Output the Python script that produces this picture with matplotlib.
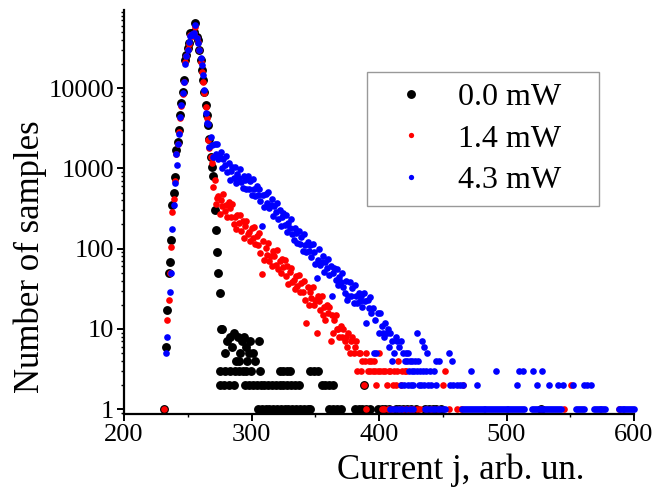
import numpy as np
import matplotlib
matplotlib.use("Agg")
import matplotlib.pyplot as plt
from matplotlib.lines import Line2D
from matplotlib.ticker import FixedLocator, LogLocator, NullFormatter, FuncFormatter, MultipleLocator

plt.rcParams['font.family'] = ['Liberation Serif', 'DejaVu Serif']

# ---- data (counts per current value j) ----
# 0.0 mW: peak, consecutive j starting at 233
black_start = 233
black_peak = [6, 17, 49, 68, 128, 350, 490, 785, 1690, 2140,
              3000, 4600, 6450, 9000, 12600, 22300, 26000, 32000, 36000, 48000,
              47000, 48000, 50000, 64000, 43000, 40000, 30000, 22300, 16800, 12600,
              9000, 6100, 4600, 3500, 2300, 1400, 1050, 800, 300, 173,
              91, 50, 28, 10]
black_mid_x = [277, 279.5, 281, 283, 285, 286.5, 288, 289.5, 290, 291,
               292.5, 294, 295.5, 296.5, 298, 299, 301.5, 303, 305.5]
black_mid_y = [10, 5, 7, 8, 6, 9, 4, 8, 4, 5, 7, 8, 6, 4, 5, 7, 5, 4, 7]
black_x3 = [275.5, 279, 283.5, 287, 290.5, 293, 296, 299.5, 307, 322.5,
            325, 328, 330.5, 346, 349, 352]
black_x2 = [275.5, 278.5, 282, 286, 295, 298, 301, 304, 307.5, 310, 313, 316,
            319, 322, 325, 328, 331, 334, 337, 355, 358, 361, 364, 388]
black_x1 = [231, 305, 308, 311, 314, 317, 320, 323, 326, 329, 332, 335, 338,
            341, 344, 346, 361, 364, 367, 370, 381, 384, 387, 390, 393, 399,
            402, 405, 408, 413, 416, 419, 422, 425, 429, 436, 439, 442, 445,
            449, 527]

# 1.4 mW: consecutive j starting at 234
red_start = 234
red_band = [13, 23, 49, 105, 288, 420, 700, 1500, 2000, 2800,
            4200, 6000, 8500, 12000, 21000, 25000, 31000, 35000, 46000, 44000,
            47000, 48000, 58000, 42000, 38000, 30000, 21000, 16000, 12000, 8800,
            5800, 4300, 2240, 1800, 1400, 1150,
            589, 708, 363, 427, 457, 269, 403, 339, 484, 295,
            347, 251, 380, 324, 245, 355, 204, 251, 176, 263,
            211, 263, 166, 221, 135, 193, 224, 150, 162, 124,
            182, 136, 186, 115, 145, 112, 155, 89, 48, 123,
            72, 102, 83, 117, 71, 82, 61, 93, 81, 63,
            95, 56, 71, 50, 74, 59, 72, 46, 60, 36,
            51, 58, 38, 41, 31, 46, 34, 47, 29, 37,
            29, 40, 23, 12, 33, 20, 29, 24, 33, 20,
            23, 9, 26, 22, 17, 26, 15, 19, 13, 20,
            16, 19, 7, 15, 9, 13, 15, 10, 10, 8,
            11, 8, 10, 7, 8, 6, 9, 5, 7, 8,
            5, 6, 7, 3, 5, 5, 3, 4, 2, 4,
            5, 3, 4, 3, 4, 3, 4, 3, 2, 3,
            5, 3, 1, 3]
red_x4 = [415]
red_x3 = [405, 408, 409, 412, 414, 418, 420, 421, 452]
red_x2 = [406, 411, 413, 417, 450.5, 466, 550.5]
red_x1 = [231, 389.5, 404, 407, 410, 416, 419, 422, 424, 427, 430, 432, 437,
          441, 446, 455, 461, 464, 527, 545, 588]

# 4.3 mW: consecutive j starting at 236
blue_start = 236
blue_band = [29, 49, 178, 350, 650, 1500, 2000, 2700, 4400, 6200,
             8600, 12000, 20000, 25000, 30000, 38000, 45000, 47000, 46000, 48000,
             62000, 42000, 36000, 30000, 24000, 19400, 14600, 9400, 4850, 3640,
             3550, 1860, 2450, 1950, 1380, 2000, 1510, 2040, 1290, 1380,
             1620, 1000, 1320, 1100, 1410, 890, 1150, 725, 933, 1050,
             759, 1050, 661, 851, 759, 989, 668, 562, 813, 708,
             550, 794, 550, 692, 462, 741, 556, 457, 603, 468,
             550, 389, 190, 462, 331, 484, 372, 501, 320, 351,
             417, 257, 339, 282, 367, 232, 302, 191, 245, 275,
             195, 263, 162, 207, 180, 232, 153, 129, 182, 155,
             117, 168, 115, 141, 94, 151, 112, 92, 120, 94,
             110, 78, 114, 91, 65, 43, 72, 99, 63, 69,
             82, 51, 68, 57, 74, 47, 61, 26, 50, 57,
             41, 56, 35, 44, 38, 50, 33, 28, 40, 23,
             26, 38, 26, 32, 21, 35, 26, 21, 28, 22,
             26, 19, 28, 22, 12, 23, 18, 25, 16, 18,
             5, 13, 5, 16, 9, 16, 11, 9, 8, 12]
blue_mid_x = [233, 233.5, 241.9, 406, 407, 408, 409, 410, 413, 414.5, 415.5, 417, 430, 434, 435]
blue_mid_y = [5, 8, 1100, 9, 10, 6, 9, 7, 8, 7, 6, 7, 9, 7, 6]
blue_x5 = [411.5, 419, 421, 423, 438, 455]
blue_x4 = [410.5, 420, 422, 424, 426, 428, 430.5, 444.5, 447, 457.5]
blue_x3 = [423.5, 425.5, 427.5, 429.5, 432, 434.5, 437, 440, 443, 472, 491.5,
           509.5, 513, 520.5, 528]
blue_x2 = [417.5, 419.5, 422.5, 425, 427, 431, 433, 435.5, 438.5, 441, 444.5,
           456, 458, 461, 463.5, 465.5, 477, 508.5, 524, 533.5, 540, 544, 552,
           561, 563.5, 566.5]
blue_x1 = [408.5, 411, 413, 416, 418, 421, 424, 427, 436, 438, 440, 442, 444,
           446, 448, 450, 452, 465, 467, 468.5, 470, 471.5, 473, 474.5, 476,
           477.5, 479, 480.5, 482, 483.5, 485, 486.5, 488, 489.5, 491, 492.5,
           494, 495.5, 497, 498.5, 500, 501.5, 503, 504.5, 506, 507.5, 509,
           510.5, 512, 514, 520, 521.5, 523, 524.5, 526, 527.5, 529, 530.5, 532,
           533.5, 535, 536.5, 538, 539.5, 541, 543, 554.5, 556, 557.5, 559,
           560.5, 568.5, 570, 571.5, 573, 574.5, 576, 577.5, 588, 589.5, 591,
           592.5, 594, 595.5, 597, 598.5, 600]

labels = ['0.0 mW', '1.4 mW', '4.3 mW']
colors = ['black', 'red', 'blue']


def collect(start, band, mid_x, mid_y, levels):
    x = list(np.arange(start, start + len(band))) + list(mid_x)
    y = list(band) + list(mid_y)
    for lev, xs in levels.items():
        x += list(xs)
        y += [lev] * len(xs)
    return np.array(x, float), np.array(y, float)


bx, by = collect(black_start, black_peak, black_mid_x, black_mid_y,
                 {3: black_x3, 2: black_x2, 1: black_x1})
rx, ry = collect(red_start, red_band, [], [],
                 {4: red_x4, 3: red_x3, 2: red_x2, 1: red_x1})
ux, uy = collect(blue_start, blue_band, blue_mid_x, blue_mid_y,
                 {5: blue_x5, 4: blue_x4, 3: blue_x3, 2: blue_x2, 1: blue_x1})

fig = plt.figure(figsize=(6.64, 4.91), dpi=100)
ax = fig.add_axes([124 / 664, 1 - 414 / 491, 510 / 664, 404 / 491])

ax.plot(bx, by, ls='none', marker='o', ms=6.4, mew=0, color=colors[0], clip_on=False)
ax.plot(rx, ry, ls='none', marker='o', ms=4.8, mew=0, color=colors[1], clip_on=False)
ax.plot(ux, uy, ls='none', marker='o', ms=4.8, mew=0, color=colors[2], clip_on=False)

ax.set_yscale('log')
ax.set_xlim(200, 600)
ax.set_ylim(0.87, 94000)

for s in ['top', 'right']:
    ax.spines[s].set_visible(False)
for s in ['left', 'bottom']:
    ax.spines[s].set_linewidth(1.6)

ax.xaxis.set_major_locator(MultipleLocator(100))
ax.xaxis.set_minor_locator(MultipleLocator(50))
ax.yaxis.set_major_locator(FixedLocator([1, 10, 100, 1000, 10000]))
ax.yaxis.set_major_formatter(FuncFormatter(lambda v, p: '%d' % v))
ax.yaxis.set_minor_locator(LogLocator(base=10, subs=np.arange(2, 10)))
ax.yaxis.set_minor_formatter(NullFormatter())
ax.tick_params(which='major', direction='out', length=5, width=1.4, labelsize=19, pad=2)
ax.tick_params(which='minor', direction='out', length=2.5, width=1.0)

ax.set_ylabel('Number of samples', fontsize=25)
ax.yaxis.set_label_coords(-0.15, 0.39)
ax.set_xlabel('Current j, arb. un.', fontsize=25, va='center')
ax.xaxis.set_label_coords(0.66, -0.14)

handles = [Line2D([], [], ls='none', marker='o', ms=6.4, mew=0, color=colors[0]),
           Line2D([], [], ls='none', marker='o', ms=3.8, mew=0, color=colors[1]),
           Line2D([], [], ls='none', marker='o', ms=3.8, mew=0, color=colors[2])]
leg = ax.legend(handles, labels, loc='upper left', mode='expand',
                bbox_to_anchor=(0.476, 0.525, 0.455, 0.322), fontsize=23,
                frameon=True, fancybox=False, edgecolor='#808080',
                borderpad=0.35, handlelength=2.05, handletextpad=0.45,
                labelspacing=0.37, borderaxespad=0)
leg.get_frame().set_linewidth(1.0)

fig.savefig('out.png', dpi=100)
